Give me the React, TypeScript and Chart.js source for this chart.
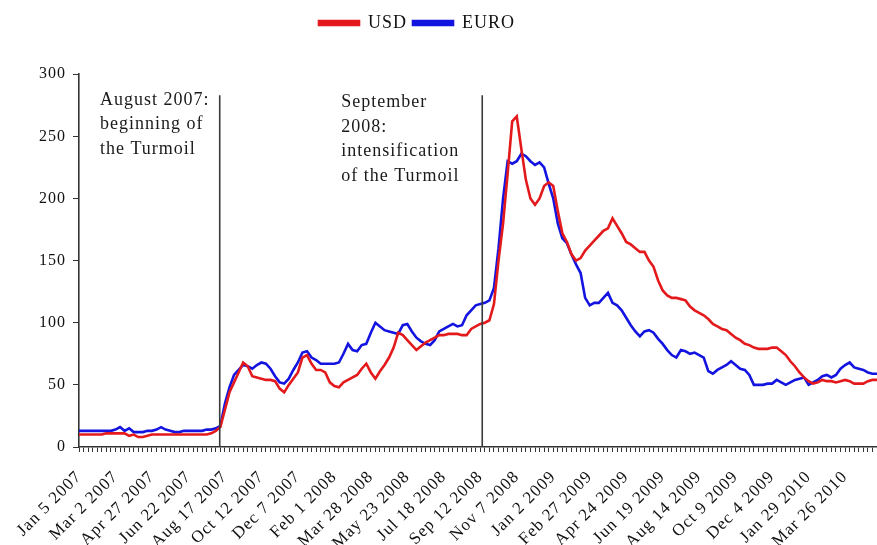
import React, { useEffect, useRef } from 'react';
import { Chart, registerables } from 'chart.js';

Chart.register(...registerables);

// Tick labels, one every 8 weeks starting Jan 5 2007
const tickLabels = [
  'Jan 5 2007', 'Mar 2 2007', 'Apr 27 2007', 'Jun 22 2007', 'Aug 17 2007', 'Oct 12 2007',
  'Dec 7 2007', 'Feb 1 2008', 'Mar 28 2008', 'May 23 2008', 'Jul 18 2008', 'Sep 12 2008',
  'Nov 7 2008', 'Jan 2 2009', 'Feb 27 2009', 'Apr 24 2009', 'Jun 19 2009', 'Aug 14 2009',
  'Oct 9 2009', 'Dec 4 2009', 'Jan 29 2010', 'Mar 26 2010',
];

// Weekly values (week 0 = Jan 5 2007)
const usd = [
  10, 10, 10, 10, 10, 10, 11, 11, 11, 11,
  11, 9, 10, 8, 8, 9, 10, 10, 10, 10,
  10, 10, 10, 10, 10, 10, 10, 10, 10, 11,
  13, 16, 30, 44, 52, 60, 68, 65, 57, 56,
  55, 54, 54, 53, 47, 44, 50, 55, 60, 72,
  74, 67, 62, 62, 60, 52, 49, 48, 52, 54,
  56, 58, 63, 67, 60, 55, 61, 66, 72, 80,
  92, 90, 86, 82, 78, 81, 84, 86, 88, 90,
  90, 91, 91, 91, 90, 90, 95, 97, 99, 100,
  102, 115, 150, 180, 220, 262, 266, 240, 215, 200,
  195, 200, 210, 213, 210, 190, 172, 165, 155, 150,
  152, 158, 162, 166, 170, 174, 176, 184, 178, 172,
  165, 163, 160, 157, 157, 150, 145, 134, 126, 122,
  120, 120, 119, 118, 113, 110, 108, 106, 103, 99,
  97, 95, 94, 91, 88, 86, 83, 82, 80, 79,
  79, 79, 80, 80, 77, 74, 69, 65, 60, 56,
  53, 51, 52, 54, 53, 53, 52, 53, 54, 53,
  51, 51, 51, 53, 54, 54,
];

const euro = [
  13, 13, 13, 13, 13, 13, 13, 13, 14, 16,
  13, 15, 12, 12, 12, 13, 13, 14, 16, 14,
  13, 12, 12, 13, 13, 13, 13, 13, 14, 14,
  15, 17, 35, 48, 58, 62, 66, 65, 63, 66,
  68, 67, 63, 57, 52, 51, 55, 62, 68, 76,
  77, 72, 70, 67, 67, 67, 67, 68, 75, 83,
  78, 77, 82, 83, 92, 100, 97, 94, 93, 92,
  91, 98, 99, 93, 88, 85, 83, 82, 86, 93,
  95, 97, 99, 97, 98, 106, 110, 114, 115, 116,
  118, 128, 160, 200, 230, 228, 230, 236, 234, 230,
  227, 229, 225, 212, 200, 180, 168, 164, 155, 147,
  140, 120, 114, 116, 116, 120, 124, 116, 114, 110,
  104, 98, 93, 89, 93, 94, 92, 87, 83, 78,
  74, 72, 78, 77, 75, 76, 74, 72, 61, 59,
  62, 64, 66, 69, 66, 63, 62, 58, 50, 50,
  50, 51, 51, 54, 52, 50, 52, 54, 55, 56,
  50, 52, 54, 57, 58, 56, 58, 63, 66, 68,
  64, 63, 62, 60, 59, 59,
];

// Event markers (week index of the date) and their captions
const eventWeeks = [30.86, 88.43];
const eventCaptions = [
  ['August 2007:', 'beginning of', 'the Turmoil'],
  ['September', '2008:', 'intensification', 'of the Turmoil'],
];
const captionWeeks = [4.6, 57.5];
const captionTop = [286.5, 284.5];
const lineTopValue = 283;

const SERIF = "'Liberation Serif', 'Times New Roman', serif";

const spacingPlugin = {
  id: 'spacing',
  afterLayout(chart: any) {
    const lg = chart.legend;
    if (lg) {
      lg.left -= 25;
      lg.right -= 25;
    }
  },
  beforeDraw(chart: any) {
    try { chart.ctx.letterSpacing = '1px'; } catch (e) {}
  },
  afterDraw(chart: any) {
    try { chart.ctx.letterSpacing = '0px'; } catch (e) {}
  },
};

const eventPlugin = {
  id: 'events',
  afterDatasetsDraw(chart: any) {
    const { ctx, scales } = chart;
    const xs = scales.x;
    const ys = scales.y;
    ctx.save();
    ctx.strokeStyle = '#3a3a3a';
    ctx.lineWidth = 1.6;
    eventWeeks.forEach((w) => {
      const x = xs.getPixelForValue(w);
      ctx.beginPath();
      ctx.moveTo(x, ys.getPixelForValue(lineTopValue));
      ctx.lineTo(x, ys.getPixelForValue(0));
      ctx.stroke();
    });
    ctx.fillStyle = '#1a1a1a';
    ctx.font = `18px ${SERIF}`;
    ctx.textBaseline = 'top';
    ctx.textAlign = 'left';
    eventCaptions.forEach((lines, i) => {
      const x = xs.getPixelForValue(captionWeeks[i]);
      const y0 = ys.getPixelForValue(captionTop[i]);
      lines.forEach((t, j) => ctx.fillText(t, x, y0 + j * 24.5));
    });
    ctx.restore();
  },
};

export default function App() {
  const ref = useRef<HTMLCanvasElement>(null);
  useEffect(() => {
    const chart = new Chart(ref.current!, {
      type: 'line',
      data: {
        datasets: [
          {
            label: 'USD',
            data: usd.map((v, i) => ({ x: i, y: v })),
            borderColor: '#e3191c',
            backgroundColor: '#e3191c',
            borderWidth: 2.6,
            pointRadius: 0,
            tension: 0,
          },
          {
            label: 'EURO',
            data: euro.map((v, i) => ({ x: i, y: v })),
            borderColor: '#1414e0',
            backgroundColor: '#1414e0',
            borderWidth: 2.6,
            pointRadius: 0,
            tension: 0,
          },
        ],
      },
      options: {
        responsive: false,
        animation: false,
        layout: { padding: { top: 8, right: 0, left: 0, bottom: 0 } },
        plugins: {
          legend: {
            position: 'top',
            align: 'center',
            labels: {
              boxWidth: 40,
              boxHeight: 4,
              padding: 6,
              color: '#111',
              font: { family: SERIF, size: 18 },
            },
          },
          subtitle: {
            display: true,
            text: ' ',
            position: 'top',
            weight: 500,
            font: { size: 1 },
            padding: { top: 31, bottom: 0 },
          },
          tooltip: { enabled: false },
        },
        scales: {
          x: {
            type: 'linear',
            min: 0,
            max: usd.length - 1,
            afterFit: (s: any) => { s.height = 98; s.paddingRight = 0; },
            border: { display: true, color: '#333', width: 1.6 },
            grid: { display: true, drawOnChartArea: false, drawTicks: true, tickLength: 5, color: '#333' },
            ticks: {
              stepSize: 1,
              autoSkip: false,
              maxTicksLimit: 1000,
              minRotation: 45,
              maxRotation: 45,
              padding: 15,
              color: '#111',
              font: { family: SERIF, size: 17 },
              callback: (v: any) => (Number(v) % 8 === 0 && tickLabels[Number(v) / 8] ? tickLabels[Number(v) / 8] : ''),
            },
          },
          y: {
            min: 0,
            max: 300,
            afterFit: (s: any) => { s.width = 79; },
            border: { display: true, color: '#333', width: 1.6 },
            grid: { display: true, drawOnChartArea: false, drawTicks: true, tickLength: 6, color: '#333' },
            ticks: {
              stepSize: 50,
              padding: 7,
              color: '#111',
              font: { family: SERIF, size: 16 },
            },
          },
        },
      },
      plugins: [spacingPlugin, eventPlugin],
    } as any);
    return () => chart.destroy();
  }, []);
  return (
    <div style={{ position: 'absolute', left: 0, top: 0, width: 877, height: 545, background: '#fff' }}>
      <canvas ref={ref} width={877} height={545} style={{ display: 'block' }} />
    </div>
  );
}
